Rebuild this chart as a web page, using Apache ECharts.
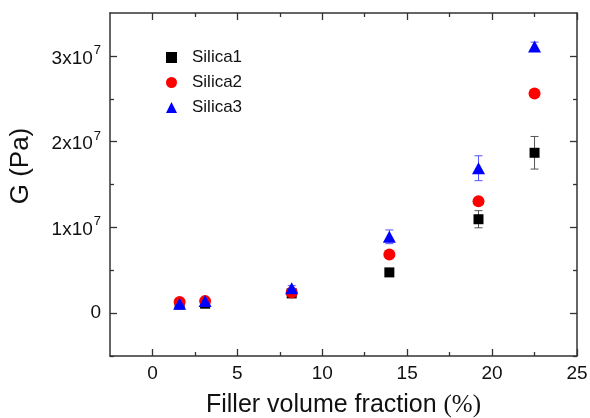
<!DOCTYPE html>
<html>
<head>
<meta charset="utf-8">
<script src="https://cdn.jsdelivr.net/npm/echarts@6/dist/echarts.min.js"></script>
<style>
  html, body { margin: 0; padding: 0; background: #fff; }
  #chart { width: 590px; height: 418px; }
</style>
</head>
<body>
<div id="chart"></div>
<script>
// filler volume fraction (%)
var fraction = [1.6, 3.1, 8.2, 13.95, 19.2, 22.5];
// G (Pa)
var silica1 = [1.0e6, 1.1e6, 2.3e6, 4.75e6, 1.095e7, 1.87e7];
var silica2 = [1.3e6, 1.4e6, 2.4e6, 6.85e6, 1.305e7, 2.56e7];
var silica3 = [1.1e6, 1.4e6, 2.9e6, 8.9e6, 1.69e7, 3.11e7];
// error bar half widths
var err1 = [2e5, 2e5, 2e5, 2e5, 1.0e6, 1.9e6];
var err2 = [2e5, 2e5, 2e5, 2e5, 2e5, 2e5];
var err3 = [5e5, 3e5, 3e5, 8e5, 1.45e6, 5e5];

var xMajor = [0, 5, 10, 15, 20, 25];
var xMinor = [2.5, 7.5, 12.5, 17.5, 22.5];
var yMajor = [0, 1e7, 2e7, 3e7];
var yMinor = [-5e6, 5e6, 1.5e7, 2.5e7];

var axisColor = "#333";

function pts(ys) {
  return fraction.map(function(x, i) { return [x, ys[i]]; });
}
function errPts(ys, es) {
  return fraction.map(function(x, i) { return [x, ys[i] - es[i], ys[i] + es[i]]; });
}
function errSeries(ys, es, color) {
  return {
    type: "custom",
    xAxisIndex: 0,
    yAxisIndex: 0,
    z: 1,
    silent: true,
    data: errPts(ys, es),
    renderItem: function(params, api) {
      var x = api.value(0);
      var top = api.coord([x, api.value(2)]);
      var bot = api.coord([x, api.value(1)]);
      var w = 4;
      var st = { stroke: color, lineWidth: 1 };
      return {
        type: "group",
        children: [
          { type: "line", shape: { x1: top[0], y1: top[1], x2: bot[0], y2: bot[1] }, style: st },
          { type: "line", shape: { x1: top[0] - w, y1: top[1], x2: top[0] + w, y2: top[1] }, style: st },
          { type: "line", shape: { x1: bot[0] - w, y1: bot[1], x2: bot[0] + w, y2: bot[1] }, style: st }
        ]
      };
    }
  };
}

function xAx(pos, ticks, len, labels, showLine) {
  return {
    type: "value", position: pos, min: -2.5, max: 25, interval: 2.5,
    axisLine: { show: showLine, onZero: false, lineStyle: { color: axisColor, width: 1.5 } },
    axisTick: { inside: true, length: len, customValues: ticks, lineStyle: { color: axisColor, width: 1.3 } },
    axisLabel: labels ? {
      customValues: xMajor, color: "#111", fontSize: 19, fontFamily: "Liberation Sans", margin: 8
    } : { show: false },
    splitLine: { show: false }
  };
}
function yAx(pos, ticks, len, labels, showLine) {
  return {
    type: "value", position: pos, min: -5e6, max: 3.5e7, interval: 5e6,
    axisLine: { show: showLine, onZero: false, lineStyle: { color: axisColor, width: 1.5 } },
    axisTick: { inside: true, length: len, customValues: ticks, lineStyle: { color: axisColor, width: 1.3 } },
    axisLabel: labels ? {
      customValues: yMajor, color: "#111", fontSize: 19, fontFamily: "Liberation Sans", margin: 9,
      formatter: function(v) {
        if (v === 0) return "0";
        return "{a|" + Math.round(v / 1e7) + "x10}{s|7}";
      },
      rich: {
        a: { fontSize: 19, fontFamily: "Liberation Sans", color: "#111", lineHeight: 24, verticalAlign: "bottom" },
        s: { fontSize: 13, fontFamily: "Liberation Sans", color: "#111", lineHeight: 24, verticalAlign: "top", padding: [0, 0, 10, 1] }
      }
    } : { show: false },
    splitLine: { show: false }
  };
}

var xAxes = [
  xAx("bottom", xMajor, 7, true, true),
  xAx("bottom", xMinor, 4, false, false),
  xAx("top", xMajor, 7, false, true),
  xAx("top", xMinor, 4, false, false)
];
xAxes[0].name = "Filler volume fraction {p|(%)}";
xAxes[0].nameLocation = "middle";
xAxes[0].nameGap = 37;
xAxes[0].nameTextStyle = {
  fontSize: 25, fontFamily: "Liberation Sans", color: "#111",
  rich: { p: { fontSize: 25, fontFamily: "Liberation Serif", color: "#111" } }
};

var yAxes = [
  yAx("left", yMajor, 7, true, true),
  yAx("left", yMinor, 4, false, false),
  yAx("right", yMajor, 7, false, true),
  yAx("right", yMinor, 4, false, false)
];
yAxes[0].name = "G (Pa)";
yAxes[0].nameLocation = "middle";
yAxes[0].nameGap = 76;
yAxes[0].nameTextStyle = { fontSize: 26, fontFamily: "Liberation Sans", color: "#111", padding: [0, 0, 0, 37] };

var chart = echarts.init(document.getElementById("chart"), null, { renderer: "canvas" });
chart.setOption({
  animation: false,
  backgroundColor: "#fff",
  grid: { left: 110, right: 13, top: 13, bottom: 62, containLabel: false, outerBoundsMode: "none" },
  legend: {
    orient: "vertical", left: 161, top: 44, itemGap: 8, itemWidth: 11, itemHeight: 11,
    textStyle: { fontSize: 17, fontFamily: "Liberation Sans", color: "#111", padding: [0, 0, 0, 10] },
    data: ["Silica1", "Silica2", "Silica3"]
  },
  xAxis: xAxes,
  yAxis: yAxes,
  series: [
    errSeries(silica1, err1, "#555"),
    errSeries(silica2, err2, "#e44"),
    errSeries(silica3, err3, "#55f"),
    { name: "Silica1", type: "scatter", symbol: "rect", symbolSize: 10, z: 2,
      itemStyle: { color: "#000", opacity: 1 }, data: pts(silica1) },
    { name: "Silica2", type: "scatter", symbol: "circle", symbolSize: 12, z: 3,
      itemStyle: { color: "#ff0000", opacity: 1 }, data: pts(silica2) },
    { name: "Silica3", type: "scatter", symbol: "triangle", symbolSize: [13, 12], z: 4,
      itemStyle: { color: "#0000ff", opacity: 1 }, data: pts(silica3) }
  ]
});
</script>
</body>
</html>
